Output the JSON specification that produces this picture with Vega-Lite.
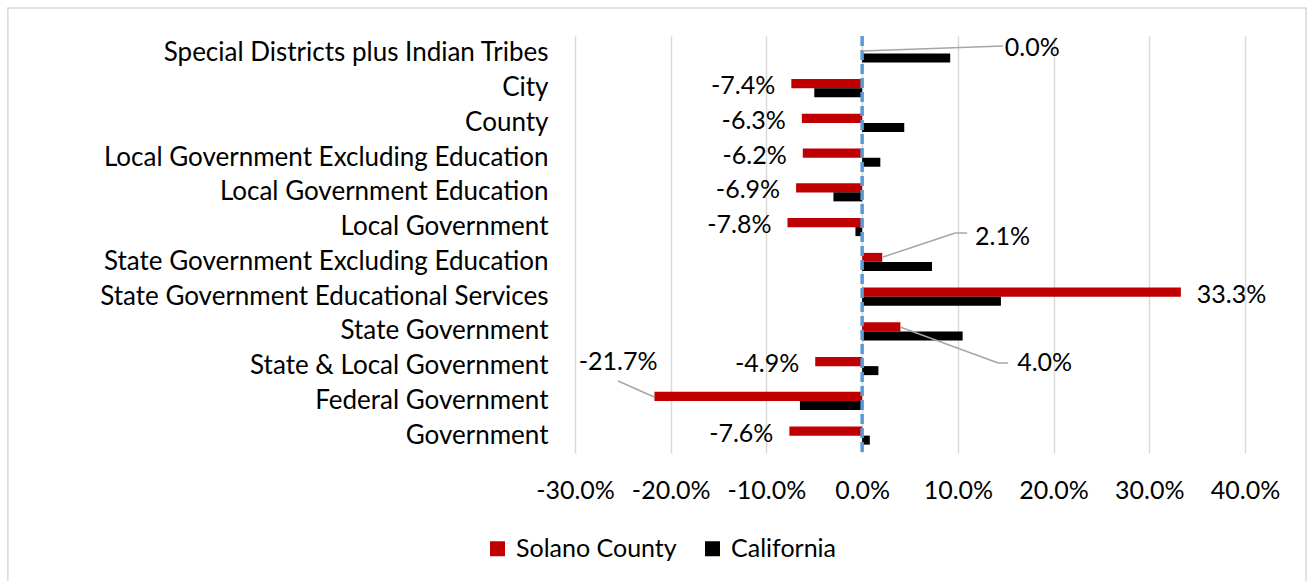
{
  "$schema": "https://vega.github.io/schema/vega-lite/v6.json",
  "width": 670,
  "height": 417,
  "autosize": "none",
  "padding": {"left": 575, "top": 36, "right": 67, "bottom": 128},
  "background": "white",
  "config": {
    "view": {"stroke": null},
    "font": "Lato",
    "locale": {"number": {"decimal": ".", "thousands": ",", "grouping": [3], "currency": ["$", ""], "minus": "-"}}
  },
  "datasets": {
    "employment": [
      {"category": "Special Districts plus Indian Tribes", "series": "Solano County", "change": 0.0},
      {"category": "Special Districts plus Indian Tribes", "series": "California", "change": 0.092},
      {"category": "City", "series": "Solano County", "change": -0.074},
      {"category": "City", "series": "California", "change": -0.05},
      {"category": "County", "series": "Solano County", "change": -0.063},
      {"category": "County", "series": "California", "change": 0.044},
      {"category": "Local Government Excluding Education", "series": "Solano County", "change": -0.062},
      {"category": "Local Government Excluding Education", "series": "California", "change": 0.019},
      {"category": "Local Government Education", "series": "Solano County", "change": -0.069},
      {"category": "Local Government Education", "series": "California", "change": -0.03},
      {"category": "Local Government", "series": "Solano County", "change": -0.078},
      {"category": "Local Government", "series": "California", "change": -0.007},
      {"category": "State Government Excluding Education", "series": "Solano County", "change": 0.021},
      {"category": "State Government Excluding Education", "series": "California", "change": 0.073},
      {"category": "State Government Educational Services", "series": "Solano County", "change": 0.333},
      {"category": "State Government Educational Services", "series": "California", "change": 0.145},
      {"category": "State Government", "series": "Solano County", "change": 0.04},
      {"category": "State Government", "series": "California", "change": 0.105},
      {"category": "State & Local Government", "series": "Solano County", "change": -0.049},
      {"category": "State & Local Government", "series": "California", "change": 0.017},
      {"category": "Federal Government", "series": "Solano County", "change": -0.217},
      {"category": "Federal Government", "series": "California", "change": -0.065},
      {"category": "Government", "series": "Solano County", "change": -0.076},
      {"category": "Government", "series": "California", "change": 0.008}
    ],
    "callouts": [
      {"label": "0.0%", "x": 0.149, "y": 0.345},
      {"label": "2.1%", "x": 0.118, "y": 5.784},
      {"label": "4.0%", "x": 0.162, "y": 9.41},
      {"label": "-21.7%", "x": -0.296, "y": 9.373}
    ],
    "leaders": [
      {"x1": 0.0, "y1": 0.432, "x2": 0.1473, "y2": 0.288},
      {"x1": 0.0219, "y1": 6.36, "x2": 0.0972, "y2": 5.669},
      {"x1": 0.0972, "y1": 5.669, "x2": 0.1097, "y2": 5.669},
      {"x1": 0.0397, "y1": 8.374, "x2": 0.1421, "y2": 9.41},
      {"x1": 0.1421, "y1": 9.41, "x2": 0.1526, "y2": 9.41},
      {"x1": -0.255, "y1": 9.928, "x2": -0.2173, "y2": 10.388}
    ]
  },
  "layer": [
    {
      "data": {"name": "employment"},
      "encoding": {
        "y": {
          "field": "category",
          "type": "nominal",
          "sort": ["Special Districts plus Indian Tribes", "City", "County", "Local Government Excluding Education", "Local Government Education", "Local Government", "State Government Excluding Education", "State Government Educational Services", "State Government", "State & Local Government", "Federal Government", "Government"],
          "scale": {"paddingInner": 0, "paddingOuter": 0},
          "axis": {"title": null, "domain": false, "ticks": false, "grid": false, "labelFont": "Lato", "labelFontSize": 26, "labelColor": "#000000", "labelPadding": 27, "labelLimit": 0}
        },
        "x": {
          "field": "change",
          "type": "quantitative",
          "scale": {"domain": [-0.3, 0.4], "nice": false, "zero": false},
          "axis": {"title": null, "values": [-0.3, -0.2, -0.1, 0, 0.1, 0.2, 0.3, 0.4], "format": ".1%", "domain": false, "ticks": false, "grid": true, "gridColor": "#D9D9D9", "gridWidth": 1.5, "labelFont": "Lato", "labelFontSize": 25, "labelColor": "#000000", "labelPadding": 25, "labelOverlap": false, "labelFlush": false, "labelBound": false}
        }
      },
      "layer": [
        {
          "mark": {"type": "bar"},
          "encoding": {
            "yOffset": {"field": "series", "sort": ["Solano County", "California"], "scale": {"paddingInner": 0, "paddingOuter": 0.93}},
            "color": {
              "field": "series",
              "type": "nominal",
              "scale": {"domain": ["Solano County", "California"], "range": ["#C00000", "#000000"]},
              "legend": {"title": null, "orient": "none", "legendX": -90, "legendY": 500, "direction": "horizontal", "symbolType": "square", "symbolSize": 225, "symbolStrokeWidth": 0, "labelFont": "Lato", "labelFontSize": 25, "labelColor": "#000000", "labelOffset": 6, "columnPadding": 23, "labelLimit": 0}
            }
          }
        },
        {
          "transform": [{"filter": "datum.series === 'Solano County' && datum.change < 0 && datum.category !== 'Federal Government'"}],
          "mark": {"type": "text", "align": "right", "baseline": "middle", "dx": -16, "dy": -2, "fontSize": 25, "font": "Lato", "color": "#000000"},
          "encoding": {"text": {"field": "change", "type": "quantitative", "format": ".1%"}}
        },
        {
          "transform": [{"filter": "datum.series === 'Solano County' && datum.change > 0.1"}],
          "mark": {"type": "text", "align": "left", "baseline": "middle", "dx": 16, "dy": -2, "fontSize": 25, "font": "Lato", "color": "#000000"},
          "encoding": {"text": {"field": "change", "type": "quantitative", "format": ".1%"}}
        }
      ]
    },
    {
      "data": {"values": [{}]},
      "mark": {"type": "rule", "color": "#5B9BD5", "strokeWidth": 3.5, "strokeDash": [10, 4]},
      "encoding": {"x": {"datum": 0, "type": "quantitative"}}
    },
    {
      "data": {"name": "leaders"},
      "mark": {"type": "rule", "color": "#A6A6A6", "strokeWidth": 1.5},
      "encoding": {
        "x": {"field": "x1", "type": "quantitative"},
        "x2": {"field": "x2"},
        "y": {"field": "y1", "type": "quantitative", "scale": {"domain": [0, 12], "reverse": true, "nice": false, "zero": false}, "axis": null},
        "y2": {"field": "y2"}
      }
    },
    {
      "data": {"name": "callouts"},
      "mark": {"type": "text", "align": "left", "baseline": "middle", "fontSize": 25, "font": "Lato", "color": "#000000"},
      "encoding": {
        "x": {"field": "x", "type": "quantitative"},
        "y": {"field": "y", "type": "quantitative", "scale": {"domain": [0, 12], "reverse": true, "nice": false, "zero": false}, "axis": null},
        "text": {"field": "label"}
      }
    },
    {
      "data": {"values": [{}]},
      "mark": {"type": "rect", "fill": null, "stroke": "#D9D9D9", "strokeWidth": 1.5, "clip": false},
      "encoding": {
        "x": {"datum": -0.8925, "type": "quantitative"},
        "x2": {"datum": 0.4639},
        "y": {"datum": -0.806, "type": "quantitative", "scale": {"domain": [0, 12], "reverse": true, "nice": false, "zero": false}, "axis": null},
        "y2": {"datum": 16.5}
      }
    }
  ],
  "resolve": {"scale": {"y": "independent"}}
}
